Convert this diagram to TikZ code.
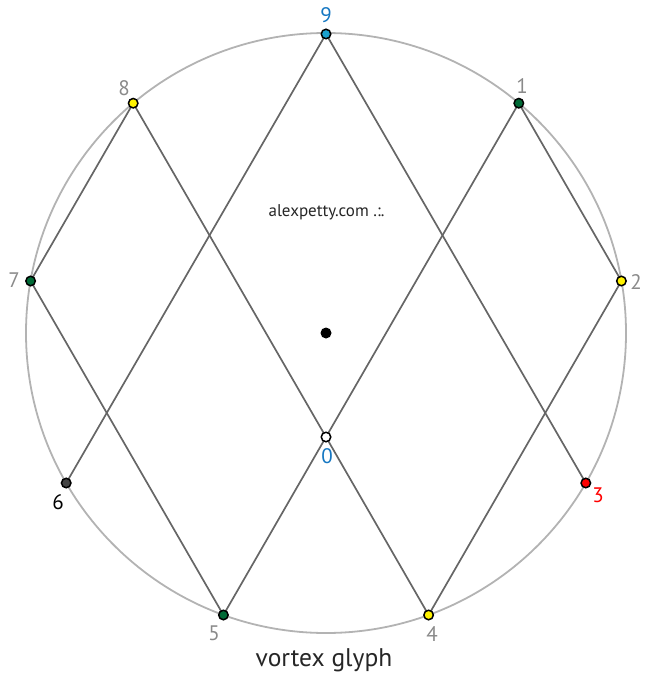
\documentclass[tikz,border=0pt]{standalone}
\usepackage{fontspec}
\setmainfont{PT Sans}
\definecolor{cyanpt}{HTML}{1BA1CF}
\definecolor{bluelab}{HTML}{1577C2}
\definecolor{greenpt}{HTML}{006A36}
\definecolor{graylab}{HTML}{8A8A8A}
\definecolor{linegray}{HTML}{666666}
\definecolor{circgray}{HTML}{B3B3B3}
\definecolor{darkpt}{HTML}{444444}
\tikzset{
  pt/.style={circle,draw=black,line width=1.5pt,inner sep=0pt,minimum size=9.5pt},
  lab/.style={font=\fontsize{21}{21}\selectfont,text=graylab,inner sep=0pt},
  edge/.style={draw=linegray,line width=1.7pt}
}
\begin{document}
\begin{tikzpicture}[x=1pt,y=-1pt]
\useasboundingbox (0,0) rectangle (652,679);
\node[draw=circgray,line width=1.8pt,circle,minimum size=600pt,inner sep=0pt] (ring) at (326,333) {};
% points
\coordinate (c9) at (326,34);
\coordinate (c1) at (518.8,103.2);
\coordinate (c2) at (621.4,281);
\coordinate (c3) at (585.8,483);
\coordinate (c4) at (428.6,615);
\coordinate (c5) at (223.4,615);
\coordinate (c6) at (66.2,483);
\coordinate (c7) at (30.6,281);
\coordinate (c8) at (133.2,103.2);
\coordinate (c0) at (326,437);
% edges
\draw[edge] (c9) -- (c3);
\draw[edge] (c9) -- (c6);
\draw[edge] (c8) -- (c7);
\draw[edge] (c8) -- (c0);
\draw[edge] (c0) -- (c4);
\draw[edge] (c1) -- (c2);
\draw[edge] (c1) -- (c0);
\draw[edge] (c0) -- (c5);
\draw[edge] (c7) -- (c5);
\draw[edge] (c2) -- (c4);
% nodes
\node[pt,fill=cyanpt] (n9) at (c9) {};
\node[pt,fill=greenpt] (n1) at (c1) {};
\node[pt,fill=yellow] (n2) at (c2) {};
\node[pt,fill=red] (n3) at (c3) {};
\node[pt,fill=yellow] (n4) at (c4) {};
\node[pt,fill=greenpt] (n5) at (c5) {};
\node[pt,fill=darkpt] (n6) at (c6) {};
\node[pt,fill=greenpt] (n7) at (c7) {};
\node[pt,fill=yellow] (n8) at (c8) {};
\node[pt,fill=white] (n0) at (c0) {};
\node[circle,fill=black,inner sep=0pt,minimum size=11pt] (center) at (326,333) {};
% labels
\node[lab,text=bluelab] (l9) at (326,15) {9};
\node[lab] (l1) at (522,86) {1};
\node[lab] (l2) at (636,282) {2};
\node[lab,text=red] (l3) at (598,495) {3};
\node[lab] (l4) at (432,634) {4};
\node[lab] (l5) at (214,633) {5};
\node[lab,text=black] (l6) at (58,502) {6};
\node[lab] (l7) at (14,280) {7};
\node[lab] (l8) at (124,88) {8};
\node[lab,text=bluelab] (l0) at (327,456) {0};
\node[font=\fontsize{17}{17}\selectfont,text=black!85,inner sep=0pt] (site) at (326.5,212) {alexpetty.com .:.};
\node[font=\fontsize{25.5}{25.5}\selectfont,text=black!85,inner sep=0pt] (title) at (324,660) {vortex glyph};
\end{tikzpicture}
\end{document}
